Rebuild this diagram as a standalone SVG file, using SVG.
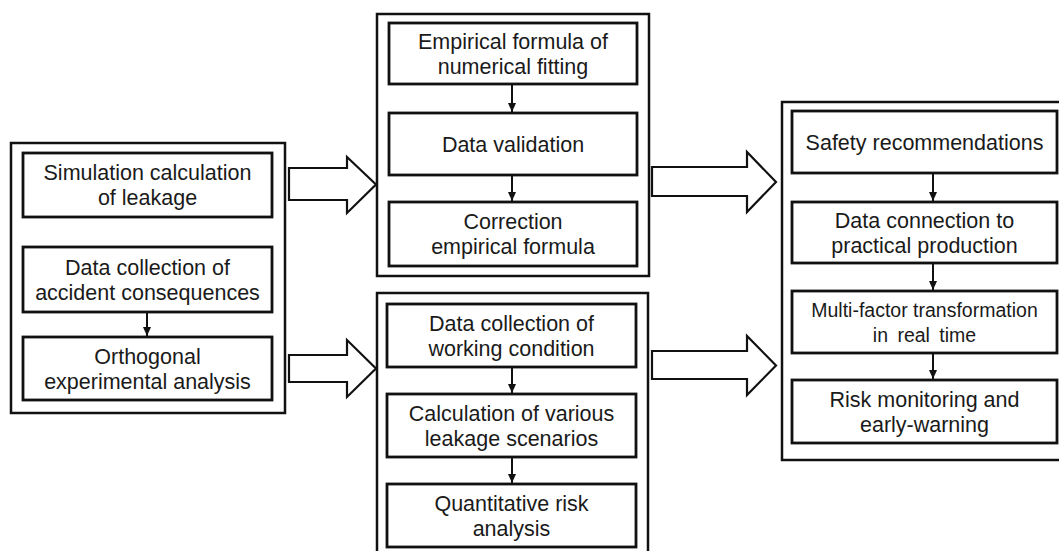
<svg xmlns="http://www.w3.org/2000/svg" width="1059" height="551" viewBox="0 0 1059 551">
<style>
.outer{fill:#fff;stroke:#111;stroke-width:2.5}
.box{fill:#fff;stroke:#111;stroke-width:2.8}
.t{font-family:"Liberation Sans",Arial,sans-serif;font-size:21.5px;fill:#1a1a1a;text-anchor:middle}
.big{fill:#fff;stroke:#111;stroke-width:2.2;stroke-linejoin:miter}
.sm{stroke:#111;stroke-width:2;fill:none;marker-end:url(#ah)}
</style>
<defs>
<marker id="ah" markerUnits="userSpaceOnUse" markerWidth="9" markerHeight="8" refX="9" refY="4" orient="auto" viewBox="0 0 9 8">
<polygon points="0,0 9,4 0,8" fill="#111"/>
</marker>
</defs>
<rect width="1059" height="551" fill="#fff"/>
<g id="group-left">
<rect class="outer" x="11" y="143" width="274" height="270"/>
</g>
<g id="group-mid-top">
<rect class="outer" x="377" y="14" width="272" height="262"/>
</g>
<g id="group-mid-bottom">
<rect class="outer" x="377" y="293" width="271" height="275"/>
</g>
<g id="group-right">
<rect class="outer" x="782" y="102" width="290" height="358"/>
</g>
<g id="n-sim">
<rect class="box" x="23" y="153" width="249" height="64"/>
<text class="t" x="147.5" y="180">Simulation calculation</text>
<text class="t" x="147.5" y="205">of leakage</text>
</g>
<g id="n-datacoll">
<rect class="box" x="23" y="247" width="249" height="65"/>
<text class="t" x="147.5" y="274.5">Data collection of</text>
<text class="t" x="147.5" y="299.5">accident consequences</text>
</g>
<g id="n-ortho">
<rect class="box" x="23" y="337" width="249" height="63"/>
<text class="t" x="147.5" y="363.5">Orthogonal</text>
<text class="t" x="147.5" y="388.5">experimental analysis</text>
</g>
<g id="n-emp">
<rect class="box" x="389" y="23" width="248" height="61"/>
<text class="t" x="513" y="48.5">Empirical formula of</text>
<text class="t" x="513" y="73.5">numerical fitting</text>
</g>
<g id="n-valid">
<rect class="box" x="389" y="113" width="248" height="62"/>
<text class="t" x="513" y="151.5">Data validation</text>
</g>
<g id="n-corr">
<rect class="box" x="389" y="202" width="248" height="64"/>
<text class="t" x="513" y="229">Correction</text>
<text class="t" x="513" y="254">empirical formula</text>
</g>
<g id="n-work">
<rect class="box" x="387" y="304" width="249" height="63"/>
<text class="t" x="511.5" y="330.5">Data collection of</text>
<text class="t" x="511.5" y="355.5">working condition</text>
</g>
<g id="n-calc">
<rect class="box" x="387" y="394" width="249" height="63"/>
<text class="t" x="511.5" y="420.5">Calculation of various</text>
<text class="t" x="511.5" y="445.5">leakage scenarios</text>
</g>
<g id="n-qra">
<rect class="box" x="387" y="484" width="249" height="63"/>
<text class="t" x="511.5" y="510.5">Quantitative risk</text>
<text class="t" x="511.5" y="535.5">analysis</text>
</g>
<g id="n-safety">
<rect class="box" x="792" y="111" width="265" height="62"/>
<text class="t" x="924.5" y="149.5">Safety recommendations</text>
</g>
<g id="n-conn">
<rect class="box" x="792" y="202" width="265" height="61"/>
<text class="t" x="924.5" y="227.5">Data connection to</text>
<text class="t" x="924.5" y="252.5">practical production</text>
</g>
<g id="n-multi">
<rect class="box" x="792" y="291" width="265" height="62"/>
<text class="t" x="924.5" y="317" style="font-size:19.5px">Multi-factor  transformation</text>
<text class="t" x="924.5" y="342" style="font-size:19.5px" word-spacing="4">in real time</text>
</g>
<g id="n-risk">
<rect class="box" x="792" y="380" width="265" height="63"/>
<text class="t" x="924.5" y="406.5">Risk monitoring and</text>
<text class="t" x="924.5" y="431.5">early-warning</text>
</g>
<g id="connectors">
<polygon class="big" points="289,168 347,168 347,157 376,184.5 347,213 347,200 289,200"/>
<polygon class="big" points="289,355 347,355 347,340 376,368.5 347,397 347,382 289,382"/>
<polygon class="big" points="652,167 747,167 747,152 776,182 747,212 747,196 652,196"/>
<polygon class="big" points="652,351 747,351 747,336 776,365.5 747,395 747,379 652,379"/>
<line class="sm" x1="147" y1="312" x2="147" y2="336"/>
<line class="sm" x1="512" y1="84" x2="512" y2="112"/>
<line class="sm" x1="512" y1="175" x2="512" y2="201"/>
<line class="sm" x1="512" y1="367" x2="512" y2="393"/>
<line class="sm" x1="512" y1="457" x2="512" y2="483"/>
<line class="sm" x1="933" y1="173" x2="933" y2="201"/>
<line class="sm" x1="933" y1="263" x2="933" y2="290"/>
<line class="sm" x1="933" y1="353" x2="933" y2="379"/>
</g>
</svg>
